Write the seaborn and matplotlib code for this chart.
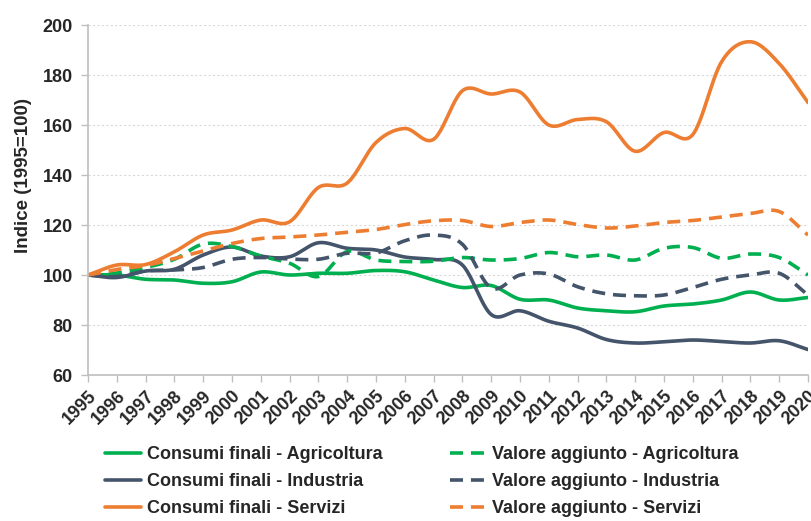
import numpy as np
import pandas as pd
import matplotlib
matplotlib.use("Agg")
import matplotlib.pyplot as plt
from matplotlib.lines import Line2D
import seaborn as sns

# Indici 1995=100
anni = list(range(1995, 2021))

cf_agricoltura = [100, 100, 98.3, 98, 96.7, 97.3, 101.2, 100, 100.7, 100.7, 101.8, 101.3,
                  98, 95, 95.8, 90.3, 90, 86.8, 85.7, 85.3, 87.6, 88.4, 90, 93.2, 90, 91]
va_agricoltura = [100, 100.8, 103, 106.3, 112.4, 111.4, 107.6, 104.7, 99.4, 109.4, 106, 105.4,
                  105.5, 107, 106, 106.6, 109, 107.3, 108, 106, 110.7, 111, 106.7, 108.4, 107, 100]
cf_industria = [100, 99, 101.6, 102.3, 108, 111.2, 107.6, 107.3, 112.9, 110.7, 110, 107.2,
                106.2, 104, 84.2, 85.7, 81.5, 78.8, 74.2, 72.8, 73.3, 74, 73.4, 72.8, 73.7, 70.2]
va_industria = [100, 99.4, 101.6, 102, 103, 106.3, 107, 106.4, 106.3, 108.7, 108.8, 113.7,
                116, 112.3, 94.8, 100, 100.4, 95.3, 92.5, 91.7, 92, 95, 98.3, 100, 100.7, 92]
cf_servizi = [100, 104, 104.2, 109.3, 116, 118, 122, 121.3, 135, 136.8, 153, 158.6,
              154.3, 173.7, 172.4, 173.2, 160, 162.2, 161.3, 149.5, 157, 156.2, 185.3, 193.3, 184.6, 169]
va_servizi = [100, 102.2, 103.8, 106.6, 109.6, 112.6, 114.6, 115.2, 116, 117.1, 118.2, 120.2,
              121.7, 121.8, 119.4, 121, 122, 120.2, 118.8, 119.6, 121, 121.8, 123.2, 124.6, 125.4, 116]

serie = [
    ("Consumi finali - Agricoltura", cf_agricoltura, "#00B050", False),
    ("Consumi finali - Industria", cf_industria, "#44546A", False),
    ("Consumi finali - Servizi", cf_servizi, "#ED7D31", False),
    ("Valore aggiunto - Agricoltura", va_agricoltura, "#00B050", True),
    ("Valore aggiunto - Industria", va_industria, "#44546A", True),
    ("Valore aggiunto - Servizi", va_servizi, "#ED7D31", True),
]


def smooth_curve(x, y, steps=24):
    """Catmull-Rom curve through the yearly values (smoothed line style)."""
    x = np.asarray(x, float)
    y = np.asarray(y, float)
    px = np.concatenate([[2 * x[0] - x[1]], x, [2 * x[-1] - x[-2]]])
    py = np.concatenate([[2 * y[0] - y[1]], y, [2 * y[-1] - y[-2]]])
    t = np.linspace(0, 1, steps, endpoint=False)
    xs, ys = [], []
    for i in range(1, len(px) - 2):
        for arr, out in ((px, xs), (py, ys)):
            p0, p1, p2, p3 = arr[i - 1], arr[i], arr[i + 1], arr[i + 2]
            out.append(0.5 * ((2 * p1) + (-p0 + p2) * t
                              + (2 * p0 - 5 * p1 + 4 * p2 - p3) * t ** 2
                              + (-p0 + 3 * p1 - 3 * p2 + p3) * t ** 3))
    xs.append([x[-1]])
    ys.append([y[-1]])
    return np.concatenate(xs), np.concatenate(ys)


sns.set_theme(style="white")
plt.rcParams["font.family"] = ["Liberation Sans", "DejaVu Sans"]
plt.rcParams["font.weight"] = "bold"

fig = plt.figure(figsize=(8.11, 5.21), dpi=100)
ax = fig.add_axes([0.1085, 0.2802, 0.8878, 0.6718])

LW = 2.6
DASH = (3.6, 2.2)
handles = []
for nome, valori, colore, tratteggio in serie:
    xs, ys = smooth_curve(anni, valori)
    df = pd.DataFrame({"anno": xs, "indice": ys})
    kw = dict(dashes=DASH) if tratteggio else {}
    sns.lineplot(data=df, x="anno", y="indice", ax=ax, color=colore,
                 linewidth=LW, sort=False, estimator=None, **kw)
    h = Line2D([], [], color=colore, linewidth=LW,
               linestyle=(0, DASH) if tratteggio else "-")
    handles.append((h, nome))

ax.set_xlim(1995, 2020)
ax.set_ylim(60, 200)
ax.set_yticks(np.arange(60, 201, 20))
ax.set_xticks(anni)
ax.set_xticklabels([str(a) for a in anni], rotation=45, ha="right",
                   rotation_mode="anchor", fontsize=13, fontweight="bold")
ax.tick_params(axis="y", labelsize=13, length=5, color="#BFBFBF", width=1, left=True, pad=6)
ax.tick_params(axis="x", length=5, color="#BFBFBF", width=1, bottom=True, pad=4)
for lbl in ax.get_yticklabels():
    lbl.set_fontweight("bold")

ax.grid(axis="y", color="#D9D9D9", linestyle=(0, (2, 2)), linewidth=0.8)
ax.grid(axis="x", visible=False)
for s in ("top", "right"):
    ax.spines[s].set_visible(False)
for s in ("left", "bottom"):
    ax.spines[s].set_color("#BFBFBF")
    ax.spines[s].set_linewidth(1.2)

ax.set_xlabel("")
ax.set_ylabel("Indice (1995=100)", fontsize=13.5, fontweight="bold")
ax.yaxis.set_label_coords(-0.078, 0.57)

leg_kw = dict(frameon=False, fontsize=13, handlelength=2.0, handletextpad=0.3,
              labelspacing=0.55, borderpad=0, borderaxespad=0, loc="upper left",
              prop={"weight": "bold", "size": 13})
leg_kw.pop("fontsize")
fig.legend([h for h, _ in handles[:3]], [n for _, n in handles[:3]],
           bbox_to_anchor=(105 / 811, 1 - 446 / 521), **leg_kw)
fig.legend([h for h, _ in handles[3:]], [n for _, n in handles[3:]],
           bbox_to_anchor=(450 / 811, 1 - 446 / 521), **leg_kw)

fig.savefig("out.png", dpi=100)
